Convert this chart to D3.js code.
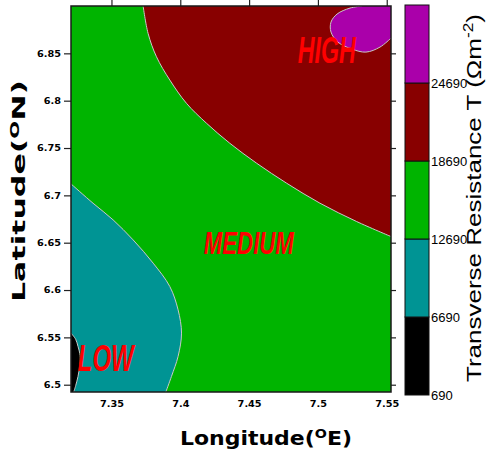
<!DOCTYPE html>
<html lang="en">
<head>
<meta charset="utf-8">
<script src="https://d3js.org/d3.v7.min.js"></script>
<style>
  body { margin: 0; background: #fff; }
  svg { display: block; }
</style>
</head>
<body>
<script>
// colour classes of the map (ohm m^-2) and their fills, lowest first
var levels = [690, 6690, 12690, 18690, 24690, 30690];
var levelColors = ["#000000", "#009494", "#00b400", "#880000", "#aa00aa"];
var levelLabels = ["690", "6690", "12690", "18690", "24690"];

var lonTicks = [7.35, 7.4, 7.45, 7.5, 7.55];
var latTicks = [6.5, 6.55, 6.6, 6.65, 6.7, 6.75, 6.8, 6.85];

// contour lines, as [lon, lat]
var line6690 = [
  [7.3206, 6.5545], [7.3240, 6.5480], [7.3257, 6.5404], [7.3270, 6.5330],
  [7.3273, 6.5285], [7.3268, 6.5190], [7.3257, 6.5088], [7.3240, 6.4990],
  [7.3226, 6.4923]
];
var line12690 = [
  [7.3206, 6.7121], [7.3366, 6.6917], [7.3512, 6.6741], [7.3657, 6.6530],
  [7.3803, 6.6284], [7.3924, 6.6037], [7.3984, 6.5791], [7.4009, 6.5545],
  [7.3984, 6.5299], [7.3936, 6.5088], [7.3895, 6.4923]
];
var line18690 = [
  [7.3730, 6.9000], [7.3766, 6.8711], [7.3827, 6.8464], [7.3924, 6.8218],
  [7.4045, 6.7972], [7.4191, 6.7761], [7.4360, 6.7550], [7.4555, 6.7339],
  [7.4773, 6.7128], [7.5015, 6.6917], [7.5282, 6.6723], [7.5531, 6.6565]
];
var line24690 = [
  [7.5320, 6.9000], [7.5233, 6.8978], [7.5139, 6.8915], [7.5095, 6.8830],
  [7.5095, 6.8725], [7.5145, 6.8619], [7.5247, 6.8545], [7.5349, 6.8513],
  [7.5451, 6.8566], [7.5531, 6.8661]
];

var lonDomain = [7.3206, 7.5531];
var latDomain = [6.4923, 6.9];

var regionNames = ["LOW", "MEDIUM", "HIGH"];

var width = 500, height = 455;
var plot = {left: 71, right: 391, top: 6, bottom: 392};

var svg = d3.select("body").append("svg")
  .attr("width", width)
  .attr("height", height);

var x = d3.scaleLinear().domain(lonDomain).range([plot.left, plot.right]);
var y = d3.scaleLinear().domain(latDomain).range([plot.bottom, plot.top]);

svg.append("clipPath").attr("id", "plotclip")
  .append("rect")
  .attr("x", plot.left).attr("y", plot.top)
  .attr("width", plot.right - plot.left)
  .attr("height", plot.bottom - plot.top);

var map = svg.append("g").attr("clip-path", "url(#plotclip)");

var line = d3.line()
  .x(function (d) { return x(d[0]); })
  .y(function (d) { return y(d[1]); })
  .curve(d3.curveCatmullRom);

// background class is the 12690-18690 band
map.append("rect")
  .attr("x", plot.left).attr("y", plot.top)
  .attr("width", plot.right - plot.left)
  .attr("height", plot.bottom - plot.top)
  .attr("fill", levelColors[2]);

var topRight = [lonDomain[1], latDomain[1]];
var bottomLeft = [lonDomain[0], latDomain[0]];

var regions = [
  {pts: line18690, corner: topRight, color: levelColors[3]},
  {pts: line24690, corner: topRight, color: levelColors[4]},
  {pts: line12690, corner: bottomLeft, color: levelColors[1]},
  {pts: line6690, corner: bottomLeft, color: levelColors[0]}
];

map.selectAll("path.region")
  .data(regions)
  .enter()
  .append("path")
  .attr("class", "region")
  .attr("d", function (d) {
    return line(d.pts) + "L" + x(d.corner[0]) + "," + y(d.corner[1]) + "Z";
  })
  .attr("fill", function (d) { return d.color; });

map.selectAll("path.cline")
  .data([line6690, line12690, line18690, line24690])
  .enter()
  .append("path")
  .attr("class", "cline")
  .attr("d", line)
  .attr("fill", "none")
  .attr("stroke", "#c8c8c8")
  .attr("stroke-width", 1);

// region names
var labelPos = [
  {lon: 7.3255, lat: 6.5140, size: 36, len: 56},
  {lon: 7.4171, lat: 6.6382, size: 32, len: 90},
  {lon: 7.4854, lat: 6.8397, size: 36, len: 58}
];
svg.selectAll("text.region")
  .data(regionNames)
  .enter()
  .append("text")
  .attr("class", "region")
  .attr("x", function (d, i) { return x(labelPos[i].lon); })
  .attr("y", function (d, i) { return y(labelPos[i].lat); })
  .attr("textLength", function (d, i) { return labelPos[i].len; })
  .attr("lengthAdjust", "spacingAndGlyphs")
  .style("font-family", "Liberation Sans")
  .style("font-weight", "bold")
  .style("font-style", "italic")
  .style("font-size", function (d, i) { return labelPos[i].size + "px"; })
  .attr("fill", "#ff0000")
  .text(function (d) { return d; });

// axes
function stretch(sel, k) {
  sel.selectAll("text").each(function () {
    var t = d3.select(this);
    t.attr("textLength", this.getComputedTextLength() * k)
     .attr("lengthAdjust", "spacingAndGlyphs");
  });
}

var yLeft = svg.append("g")
  .attr("transform", "translate(" + plot.left + ",0)")
  .call(d3.axisLeft(y).tickValues(latTicks).tickSize(7).tickPadding(3).tickFormat(String));
var xBottom = svg.append("g")
  .attr("transform", "translate(0," + plot.bottom + ")")
  .call(d3.axisBottom(x).tickValues(lonTicks).tickSize(0).tickPadding(9).tickFormat(String));
svg.append("g")
  .attr("transform", "translate(0," + plot.top + ")")
  .call(d3.axisTop(x).tickValues(lonTicks).tickSize(6).tickFormat(""));
svg.append("g")
  .attr("transform", "translate(" + plot.right + ",0)")
  .call(d3.axisRight(y).tickValues(latTicks).tickSize(5).tickFormat(""));

svg.selectAll(".domain").remove();
svg.selectAll(".tick line").attr("stroke", "#222").attr("stroke-width", 1.2);
svg.selectAll(".tick text")
  .attr("fill", "#000")
  .style("font-family", "DejaVu Sans")
  .style("font-weight", "bold")
  .style("font-size", "9px");
stretch(yLeft, 1.08);
stretch(xBottom, 1.08);

svg.append("rect")
  .attr("x", plot.left).attr("y", plot.top)
  .attr("width", plot.right - plot.left)
  .attr("height", plot.bottom - plot.top)
  .attr("fill", "none")
  .attr("stroke", "#1a1a1a")
  .attr("stroke-width", 1.5);

// axis titles
var xt = svg.append("text")
  .attr("x", 266).attr("y", 445)
  .attr("text-anchor", "middle")
  .attr("textLength", 172)
  .attr("lengthAdjust", "spacingAndGlyphs")
  .style("font-family", "DejaVu Sans")
  .style("font-weight", "bold")
  .style("font-size", "20px");
xt.append("tspan").text("Longitude(");
xt.append("tspan").attr("dy", -7).style("font-size", "13px").text("O");
xt.append("tspan").attr("dy", 7).text("E)");

var yt = svg.append("text")
  .attr("transform", "translate(25,191) rotate(-90)")
  .attr("text-anchor", "middle")
  .attr("textLength", 222)
  .attr("lengthAdjust", "spacingAndGlyphs")
  .style("font-family", "DejaVu Sans")
  .style("font-weight", "bold")
  .style("font-size", "18px");
yt.append("tspan").text("Latitude(");
yt.append("tspan").attr("dy", -6).style("font-size", "12px").text("O");
yt.append("tspan").attr("dy", 6).text("N)");

// colour bar
var bar = {left: 405, width: 24};
var c = d3.scaleLinear().domain([levels[0], levels[levels.length - 1]]).range([395, 5]);

svg.selectAll("rect.band")
  .data(levelColors)
  .enter()
  .append("rect")
  .attr("class", "band")
  .attr("x", bar.left)
  .attr("y", function (d, i) { return c(levels[i + 1]); })
  .attr("width", bar.width)
  .attr("height", function (d, i) { return c(levels[i]) - c(levels[i + 1]); })
  .attr("fill", function (d) { return d; })
  .attr("stroke", "#111")
  .attr("stroke-width", 1);

svg.selectAll("text.blabel")
  .data(levelLabels)
  .enter()
  .append("text")
  .attr("class", "blabel")
  .attr("x", bar.left + bar.width + 2)
  .attr("y", function (d, i) { return c(levels[i]); })
  .attr("dy", "0.36em")
  .style("font-family", "Liberation Sans")
  .style("font-size", "13px")
  .text(function (d) { return d; });

var ct = svg.append("text")
  .attr("transform", "translate(481,198) rotate(-90)")
  .attr("text-anchor", "middle")
  .attr("textLength", 368)
  .attr("lengthAdjust", "spacingAndGlyphs")
  .style("font-family", "Liberation Sans")
  .style("font-size", "21px");
ct.append("tspan").text("Transverse Resistance T (\u03A9m");
ct.append("tspan").attr("dy", -8).style("font-size", "14px").text("-2");
ct.append("tspan").attr("dy", 8).text(")");
</script>
</body>
</html>
